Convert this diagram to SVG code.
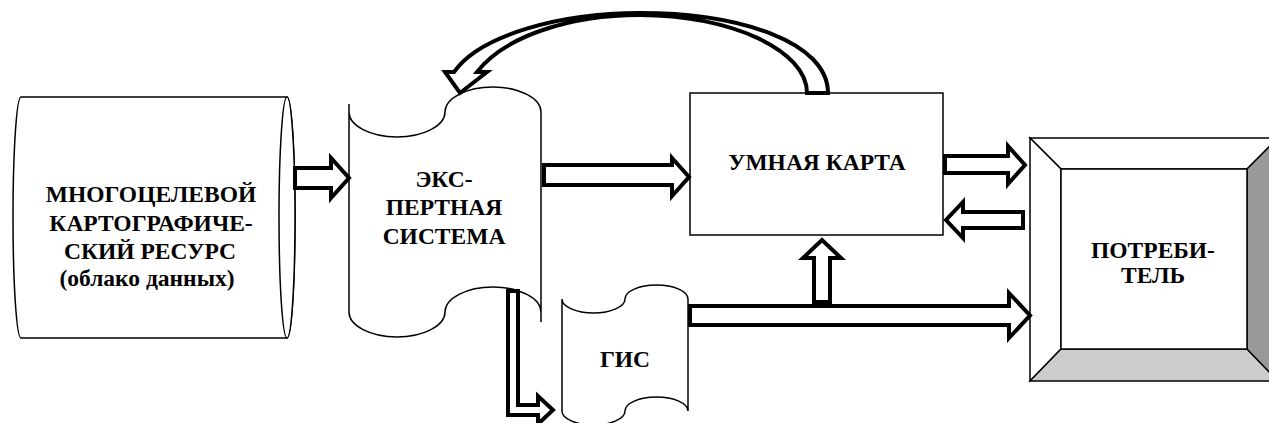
<svg xmlns="http://www.w3.org/2000/svg" width="1269" height="423" viewBox="0 0 1269 423">
<style>
.shape{fill:#fff;stroke:#000;stroke-width:1.5}
.arr{fill:#fff;stroke:#000;stroke-width:4;stroke-linejoin:miter;stroke-miterlimit:10}
.t{font-family:"Liberation Serif","Liberation Sans",sans-serif;font-weight:bold;font-size:23.5px;fill:#000;text-anchor:middle}
</style>
<rect width="1269" height="423" fill="#fff"/>

<g id="resource">
<path class="shape" d="M21,97 L287,97 A8,120.5 0 0 1 287,338 L21,338 A8,120.5 0 0 1 21,97 Z"/>
<ellipse class="shape" cx="287" cy="217.5" rx="8" ry="120.5"/>
<text class="t" x="151" y="202">МНОГОЦЕЛЕВОЙ</text>
<text class="t" x="151" y="231">КАРТОГРАФИЧЕ-</text>
<text class="t" x="150" y="259">СКИЙ РЕСУРС</text>
<text class="t" x="147" y="286">(облако данных)</text>
</g>

<g id="expert">
<path class="shape" d="M349,112 A48,25 0 0 0 445,112 A48,25 0 0 1 541,112 L541,312 A48,25 0 0 0 445,312 A48,25 0 0 1 349,312 Z"/>
<path fill="none" stroke="#000" stroke-width="1.5" d="M349,104 L349,112 M541,312 L541,322"/>
<text class="t" x="444" y="187">ЭКС-</text>
<text class="t" x="444" y="215">ПЕРТНАЯ</text>
<text class="t" x="444" y="244">СИСТЕМА</text>
</g>

<g id="smartmap">
<rect class="shape" x="690" y="93" width="253" height="142"/>
<text class="t" x="817" y="170">УМНАЯ КАРТА</text>
</g>

<g id="gis">
<path class="shape" d="M562,299 A31.5,14 0 0 0 625,299 A31.5,14 0 0 1 688,299 L688,411 A31.5,14 0 0 0 625,411 A31.5,14 0 0 1 562,411 Z"/>
<text class="t" x="625" y="367">ГИС</text>
</g>

<g id="consumer">
<polygon fill="#fff" stroke="#000" stroke-width="1.5" points="1030,138 1278,138 1247,169 1061,169"/>
<polygon fill="#fff" stroke="#000" stroke-width="1.5" points="1030,138 1061,169 1061,349 1030,381"/>
<polygon fill="#cccccc" stroke="#000" stroke-width="1.5" points="1030,381 1061,349 1247,349 1278,381"/>
<polygon fill="#999999" stroke="#000" stroke-width="1.5" points="1278,138 1247,169 1247,349 1278,381"/>
<rect fill="#fff" stroke="#000" stroke-width="1.5" x="1061" y="169" width="186" height="180"/>
<text class="t" x="1153" y="258">ПОТРЕБИ-</text>
<text class="t" x="1153" y="283">ТЕЛЬ</text>
</g>

<g id="connectors">
<polygon class="arr" points="295,168 331,168 331,158 349,178 331,198 331,188 295,188"/>
<polygon class="arr" points="544,165 672,165 672,158 689,177 672,196 672,185 544,185"/>
<polygon class="arr" points="945,156 1008,156 1008,146 1025,165 1008,184 1008,173 945,173"/>
<polygon class="arr" points="1023,212 963,212 963,202 946,220 963,238 963,228 1023,228"/>
<polygon class="arr" points="690,306 1009,306 1009,293 1030,315.5 1009,338 1009,325 690,325"/>
<polygon class="arr" points="814,302 814,258 803,258 822,240 841,258 830,258 830,302"/>
<polygon class="arr" points="508,291 518,291 518,405 538,405 538,396 553,410 538,424 538,415 508,415"/>
<path class="arr" d="M828,93 C828,42 740,13 640,13 C560,13 480,35 454,72 L445,72 L460,93 L487,72 L477,72 C505,36 570,15 640,15 C730,15 807,50 807,93 Z"/>
</g>
</svg>
